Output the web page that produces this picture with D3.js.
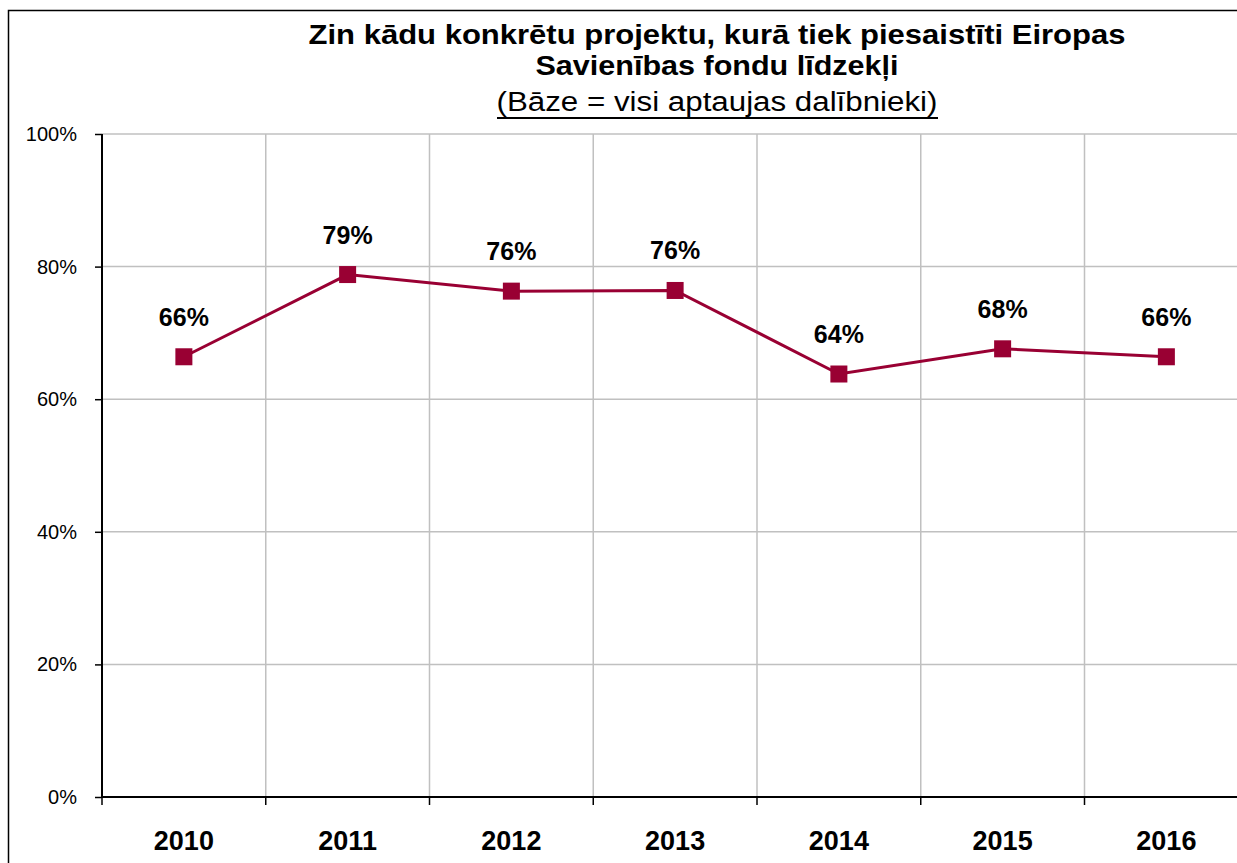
<!DOCTYPE html>
<html lang="lv">
<head>
<meta charset="utf-8">
<title>ES fondu projekti</title>
<script src="https://cdn.jsdelivr.net/npm/d3@7"></script>
<style>
	body { margin: 0; background: #fff; }
	svg { display: block; font-family: "Liberation Sans", Arial, sans-serif; }
</style>
</head>
<body>
<div id="chart"></div>
<script>
	// data
	var years = ["2010", "2011", "2012", "2013", "2014", "2015", "2016"];
	var shares = [0.664, 0.788, 0.763, 0.764, 0.638, 0.676, 0.664];
	var yTicks = [0, 0.2, 0.4, 0.6, 0.8, 1];
	var titleLines = ["Zin kādu konkrētu projektu, kurā tiek piesaistīti Eiropas", "Savienības fondu līdzekļi"];
	var subtitle = "(Bāze = visi aptaujas dalībnieki)";

	var w = 1237, h = 863;
	var plotLeft = 102, plotTop = 134, plotBottom = 797;
	var band = 163.75;
	var lineColor = "#990033";
	var gridColor = "#c0c0c0";

	var svg = d3.select("#chart").append("svg").attr("width", w).attr("height", h);

	// outer frame (runs off the picture on right and bottom)
	svg.append("rect")
		.attr("x", 8.5).attr("y", 10.5)
		.attr("width", w + 20).attr("height", h + 20)
		.attr("fill", "none").attr("stroke", "#000").attr("stroke-width", 1.5);

	var x = d3.scaleBand()
		.domain(years)
		.range([plotLeft, plotLeft + band * years.length]);

	var y = d3.scaleLinear()
		.domain([0, 1])
		.range([plotBottom, plotTop]);

	// gridlines
	svg.append("g").selectAll("line")
		.data(yTicks.slice(1))
		.enter().append("line")
		.attr("x1", plotLeft).attr("x2", x.range()[1])
		.attr("y1", function(d) { return y(d); })
		.attr("y2", function(d) { return y(d); })
		.attr("stroke", gridColor).attr("stroke-width", 1.5);

	svg.append("g").selectAll("line")
		.data(years.slice(1))
		.enter().append("line")
		.attr("x1", function(d) { return x(d); })
		.attr("x2", function(d) { return x(d); })
		.attr("y1", plotTop).attr("y2", plotBottom)
		.attr("stroke", gridColor).attr("stroke-width", 1.5);

	// y axis
	var yAxis = d3.axisLeft(y)
		.tickValues(yTicks)
		.tickFormat(d3.format(".0%"))
		.tickSize(7)
		.tickPadding(18);

	var gy = svg.append("g")
		.attr("transform", "translate(" + plotLeft + ",0)")
		.call(yAxis);
	gy.select(".domain").remove();
	gy.append("line")
		.attr("x1", 0).attr("x2", 0)
		.attr("y1", plotTop).attr("y2", plotBottom + 1)
		.attr("stroke", "#000").attr("stroke-width", 2);
	gy.selectAll(".tick line").attr("stroke", "#000").attr("stroke-width", 1.5);
	gy.selectAll(".tick text")
		.attr("fill", "#000")
		.style("font-size", "20px")
		.style("font-family", "'Liberation Sans', Arial, sans-serif");

	// x axis
	svg.append("line")
		.attr("x1", plotLeft).attr("x2", x.range()[1])
		.attr("y1", plotBottom).attr("y2", plotBottom)
		.attr("stroke", "#000").attr("stroke-width", 2);

	svg.append("g").selectAll("line")
		.data(years)
		.enter().append("line")
		.attr("x1", function(d) { return x(d); })
		.attr("x2", function(d) { return x(d); })
		.attr("y1", plotBottom).attr("y2", plotBottom + 8)
		.attr("stroke", "#000").attr("stroke-width", 1.5);

	svg.append("g").selectAll("text")
		.data(years)
		.enter().append("text")
		.attr("x", function(d) { return x(d) + x.bandwidth() / 2; })
		.attr("y", 850)
		.attr("text-anchor", "middle")
		.style("font-size", "27px")
		.style("font-weight", "bold")
		.text(function(d) { return d; });

	// series
	var pts = years.map(function(d, i) { return { year: d, v: shares[i] }; });
	var line = d3.line()
		.x(function(d) { return x(d.year) + x.bandwidth() / 2; })
		.y(function(d) { return y(d.v); });

	svg.append("path")
		.datum(pts)
		.attr("d", line)
		.attr("fill", "none")
		.attr("stroke", lineColor)
		.attr("stroke-width", 3);

	var m = 17;
	svg.append("g").selectAll("rect")
		.data(pts)
		.enter().append("rect")
		.attr("x", function(d) { return x(d.year) + x.bandwidth() / 2 - m / 2; })
		.attr("y", function(d) { return y(d.v) - m / 2; })
		.attr("width", m).attr("height", m)
		.attr("fill", lineColor);

	svg.append("g").selectAll("text")
		.data(pts)
		.enter().append("text")
		.attr("x", function(d) { return x(d.year) + x.bandwidth() / 2; })
		.attr("y", function(d) { return y(d.v) - 31; })
		.attr("text-anchor", "middle")
		.style("font-size", "25px")
		.style("font-weight", "bold")
		.text(function(d) { return Math.round(d.v * 100) + "%"; });

	// title
	var titleX = 717;
	svg.append("text")
		.attr("x", titleX).attr("y", 44)
		.attr("text-anchor", "middle")
		.attr("textLength", 817).attr("lengthAdjust", "spacingAndGlyphs")
		.style("font-size", "28px").style("font-weight", "bold")
		.text(titleLines[0]);
	svg.append("text")
		.attr("x", titleX).attr("y", 75)
		.attr("text-anchor", "middle")
		.attr("textLength", 363).attr("lengthAdjust", "spacingAndGlyphs")
		.style("font-size", "28px").style("font-weight", "bold")
		.text(titleLines[1]);
	svg.append("text")
		.attr("x", titleX).attr("y", 111)
		.attr("text-anchor", "middle")
		.attr("textLength", 441).attr("lengthAdjust", "spacingAndGlyphs")
		.style("font-size", "27px")
		.text(subtitle);
	svg.append("line")
		.attr("x1", titleX - 220).attr("x2", titleX + 221)
		.attr("y1", 118).attr("y2", 118)
		.attr("stroke", "#000").attr("stroke-width", 2);
</script>
</body>
</html>
